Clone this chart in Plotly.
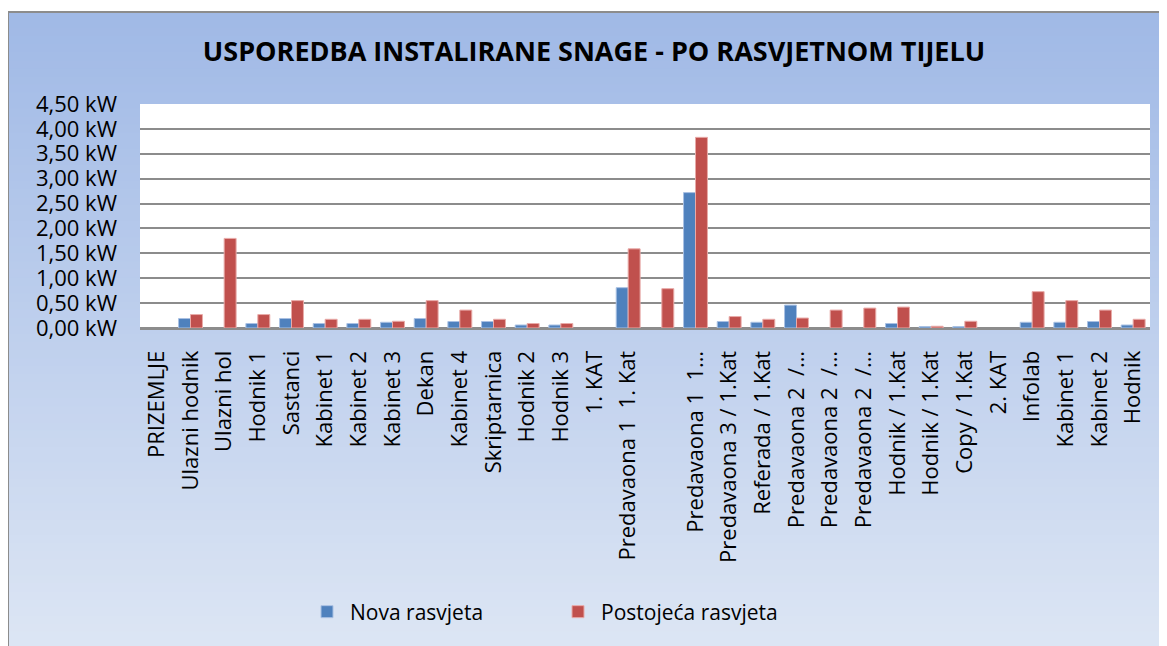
import plotly.graph_objects as go

# kategorije (prostorije)
kategorije = [
    "PRIZEMLJE", "Ulazni hodnik", "Ulazni hol", "Hodnik 1", "Sastanci",
    "Kabinet 1", "Kabinet 2", "Kabinet 3", "Dekan", "Kabinet 4",
    "Skriptarnica", "Hodnik 2", "Hodnik 3", "1. KAT", "Predavaona 1  1. Kat",
    "", "Predavaona 1  1…", "Predavaona 3 / 1.Kat", "Referada / 1.Kat",
    "Predavaona 2  /…", "Predavaona 2  /…", "Predavaona 2  /…",
    "Hodnik / 1.Kat", "Hodnik / 1.Kat", "Copy / 1.Kat", "2. KAT",
    "Infolab", "Kabinet 1", "Kabinet 2", "Hodnik",
]

# snaga u kW
nova = [
    None, 0.19, None, 0.09, 0.19, 0.09, 0.09, 0.115, 0.19, 0.13,
    0.13, 0.06, 0.06, None, 0.81, None, 2.72, 0.13, 0.115, 0.46,
    None, None, 0.09, 0.03, 0.03, None, 0.115, 0.115, 0.13, 0.06,
]
postojeca = [
    None, 0.27, 1.80, 0.27, 0.55, 0.175, 0.175, 0.135, 0.55, 0.36,
    0.175, 0.09, 0.09, None, 1.59, 0.79, 3.83, 0.23, 0.175, 0.20,
    0.36, 0.40, 0.42, 0.035, 0.135, None, 0.73, 0.55, 0.36, 0.175,
]

y_ticks = [0, 0.5, 1, 1.5, 2, 2.5, 3, 3.5, 4, 4.5]
y_labels = ["0,00 kW", "0,50 kW", "1,00 kW", "1,50 kW", "2,00 kW",
            "2,50 kW", "3,00 kW", "3,50 kW", "4,00 kW", "4,50 kW"]

# stranica ima 8px margine, pa je sve pomaknuto za 8px
OFF = 8
W, H = 1167 - OFF, 646 - OFF
L, R, T, B = 140 - OFF, 17, 104 - OFF, 646 - 328
pw, ph = W - L - R, H - T - B


def px_x(x):
    return (x - OFF - L) / pw


def px_y(y):
    return (H - B - (y - OFF)) / ph


x = list(range(len(kategorije)))
ticktext = [k.replace("  ", "\u00a0\u00a0") for k in kategorije]

fig = go.Figure()
fig.add_trace(go.Bar(x=x, y=nova, name="Nova rasvjeta",
                     marker=dict(color="#4f81bd", line=dict(color="#a9c1e3", width=1))))
fig.add_trace(go.Bar(x=x, y=postojeca, name="Postojeća rasvjeta",
                     marker=dict(color="#c0504d", line=dict(color="#e8aaa8", width=1))))

# pozadina s gradijentom
shapes = []
top_c = (160, 185, 230)
bot_c = (221, 230, 244)
n = 80
y_top, y_bot = 12, 646 + 10
for i in range(n):
    t = i / (n - 1)
    c = tuple(int(round(top_c[k] + (bot_c[k] - top_c[k]) * t)) for k in range(3))
    y0 = y_top + (y_bot - y_top) * i / n
    y1 = y_top + (y_bot - y_top) * (i + 1) / n + 1
    shapes.append(dict(type="rect", xref="paper", yref="paper", layer="below",
                       x0=px_x(8), x1=px_x(1180), y0=px_y(y1), y1=px_y(y0),
                       line=dict(width=0), fillcolor="rgb(%d,%d,%d)" % c))
shapes.append(dict(type="rect", xref="paper", yref="paper", layer="below",
                   x0=0, x1=1, y0=0, y1=1, line=dict(width=0), fillcolor="white"))
# okvir
shapes.append(dict(type="line", xref="paper", yref="paper",
                   x0=px_x(8), x1=px_x(1180), y0=px_y(12), y1=px_y(12),
                   line=dict(color="#8c8c8c", width=2)))
shapes.append(dict(type="line", xref="paper", yref="paper",
                   x0=px_x(8), x1=px_x(8), y0=px_y(12), y1=px_y(660),
                   line=dict(color="#8c8c8c", width=2)))

fig.update_layout(
    width=W, height=H,
    margin=dict(l=L, r=R, t=T, b=B),
    paper_bgcolor="white",
    plot_bgcolor="white",
    barmode="group",
    bargap=0.29,
    bargroupgap=0,
    font=dict(family="Open Sans", size=22, color="black"),
    title=dict(text="<b>USPOREDBA INSTALIRANE SNAGE - PO RASVJETNOM TIJELU</b>",
               x=(594 - OFF) / W, xref="container", xanchor="center",
               y=1 - (52 - OFF) / H, yref="container", yanchor="middle",
               font=dict(family="Open Sans", size=27, color="black")),
    shapes=shapes,
    showlegend=True,
    legend=dict(orientation="h", x=px_x(304), xanchor="left", y=px_y(612), yanchor="middle",
                bgcolor="rgba(0,0,0,0)", font=dict(size=21), entrywidth=200,
                itemwidth=36, traceorder="normal"),
)

fig.update_xaxes(
    tickmode="array", tickvals=x, ticktext=ticktext, tickangle=-90,
    range=[-0.5, len(kategorije) - 0.5],
    showgrid=False, showline=True, linecolor="#8c8c8c", linewidth=2,
    ticks="", ticklabelstandoff=12, tickfont=dict(size=22),
)
fig.update_yaxes(
    range=[0, 4.5], tickmode="array", tickvals=y_ticks, ticktext=y_labels,
    showgrid=True, gridcolor="#8c8c8c", gridwidth=2,
    zeroline=True, zerolinecolor="#8c8c8c", zerolinewidth=2,
    showline=False, ticks="", ticklabelstandoff=22, tickfont=dict(size=22),
)

fig.write_html("out.html")
